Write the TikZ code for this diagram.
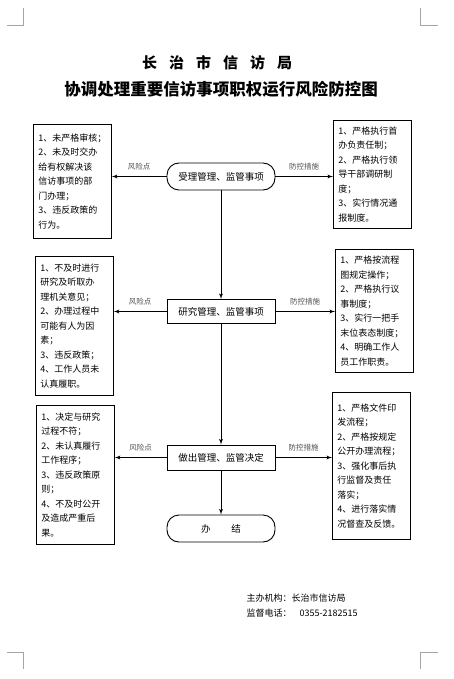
\documentclass[tikz,border=0pt]{standalone}
\usepackage{fontspec}
\setmainfont{Noto Sans CJK SC}
\usepackage{tikz}
\usetikzlibrary{arrows,positioning,calc}
\definecolor{cornergray}{RGB}{165,165,165}
\definecolor{taggray}{RGB}{80,80,80}

\begin{document}
\begin{tikzpicture}[x=1pt,y=-1pt,>=latex',
  box/.style={draw,line width=0.9pt,align=left,anchor=north west,inner xsep=5pt,inner ysep=4pt,text width=68pt,font=\fontsize{9}{14.5}\selectfont},
  stadium/.style={draw,line width=0.9pt,rounded corners=12pt,minimum width=108pt,minimum height=27pt,font=\fontsize{9.5}{11}\selectfont},
  flow/.style={draw,line width=0.9pt,minimum width=108pt,minimum height=24pt,font=\fontsize{9.5}{11}\selectfont},
  tag/.style={font=\fontsize{7.5}{9}\selectfont,text=taggray,above=3pt},
  link/.style={->,line width=0.9pt}]
\useasboundingbox (0,0) rectangle (454,679);
% crop marks
\draw[cornergray,line width=0.6pt] (23,8)--(23,25)--(7,25) (420,8)--(420,25)--(438,25)
  (7,652)--(23,652)--(23,669) (438,652)--(420,652)--(420,669);
% title
\node (org) at (217,63) {\fontsize{15}{15}\selectfont\bfseries 长\hspace{12pt}治\hspace{12pt}市\hspace{12pt}信\hspace{12pt}访\hspace{12pt}局};
\node (title) at (221,89) {\fontsize{16.5}{17}\selectfont\bfseries 协调处理重要信访事项职权运行风险防控图};
% main flow
\node[stadium] (acc) at (221,176.5) {受理管理、监管事项};
\node[flow] (stu) at (221,311.5) {研究管理、监管事项};
\node[flow,minimum height=25pt] (dec) at (221,457.5) {做出管理、监管决定};
\node[stadium] (fin) at (221,528.5) {办\hspace{2.2em}结};
% risks and measures
\node[box,minimum height=114pt] (risk1) at (33,124) {1、未严格审核；\\2、未及时交办\\给有权解决该\\信访事项的部\\门办理；\\3、违反政策的\\行为。};
\node[box,minimum height=108pt] (ctrl1) at (333,120) {1、严格执行首\\办负责任制；\\2、严格执行领\\导干部调研制\\度；\\3、实行情况通\\报制度。};
\node[box,minimum height=139pt] (risk2) at (35,256) {1、不及时进行\\研究及听取办\\理机关意见；\\2、办理过程中\\可能有人为因\\素；\\3、违反政策；\\4、工作人员未\\认真履职。};
\node[box,minimum height=123pt] (ctrl2) at (335,249) {1、严格按流程\\图规定操作；\\2、严格执行议\\事制度；\\3、实行一把手\\末位表态制度；\\4、明确工作人\\员工作职责。};
\node[box,minimum height=139pt] (risk3) at (36,405) {1、决定与研究\\过程不符；\\2、未认真履行\\工作程序；\\3、违反政策原\\则；\\4、不及时公开\\及造成严重后\\果。};
\node[box,minimum height=147pt] (ctrl3) at (332,392) {1、严格文件印\\发流程；\\2、严格按规定\\公开办理流程；\\3、强化事后执\\行监督及责任\\落实；\\4、进行落实情\\况督查及反馈。};
% footer
\node[anchor=west,font=\fontsize{9}{11}\selectfont] (host) at (243,598) {主办机构：长治市信访局};
\node[anchor=west,font=\fontsize{9}{11}\selectfont] (tel) at (243,613) {监督电话：\hspace{8pt}0355-2182515};
% connectors
\draw[link] (acc)--(stu); \draw[link] (stu)--(dec); \draw[link] (dec)--(fin);
\draw[link] (acc.west)--node[tag]{风险点}(acc.west-|risk1.east);
\draw[link] (acc.east)--node[tag]{防控措施}(acc.east-|ctrl1.west);
\draw[link] (stu.west)--node[tag]{风险点}(stu.west-|risk2.east);
\draw[link] (stu.east)--node[tag]{防控措施}(stu.east-|ctrl2.west);
\draw[link] (dec.west)--node[tag]{风险点}(dec.west-|risk3.east);
\draw[link] (dec.east)--node[tag]{防控措施}(dec.east-|ctrl3.west);
\end{tikzpicture}
\end{document}
